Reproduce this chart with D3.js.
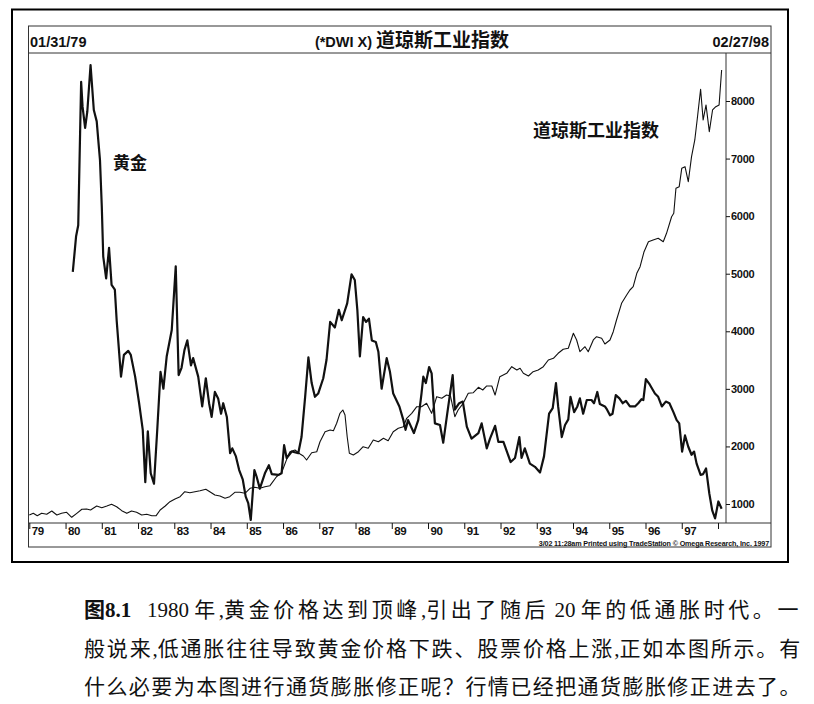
<!DOCTYPE html>
<html>
<head>
<meta charset="utf-8">
<script src="https://cdn.jsdelivr.net/npm/d3@7"></script>
<style>
  html, body { margin: 0; padding: 0; background: #fff; }
  svg { display: block; }
  .cap { white-space: pre; }
</style>
</head>
<body>
<svg id="chart" width="814" height="704"></svg>
<script>
// ---------------- DATA ----------------
const headerLeft = "01/31/79";
const headerRight = "02/27/98";
const headerTitle = ["(*DWI X) ", "道琼斯工业指数"];
const yearTicks = d3.range(1979, 1999);
const dowTicks = [1000, 2000, 3000, 4000, 5000, 6000, 7000, 8000];
const goldLabel = "黄金";
const dowLabel = "道琼斯工业指数";
const credit = "3/02 11:28am Printed using TradeStation © Omega Research, Inc. 1997";
const captionLines = [
  "图8.1   1980 年,黄金价格达到顶峰,引出了随后 20 年的低通胀时代。一",
  "般说来,低通胀往往导致黄金价格下跌、股票价格上涨,正如本图所示。有",
  "什么必要为本图进行通货膨胀修正呢？行情已经把通货膨胀修正进去了。"
];
const captionBold = "图8.1";

// Dow Jones Industrial Average [decimal year, index]
const dow = [
[1979.00,809],[1979.11,838],[1979.22,797],[1979.34,838],[1979.48,821],[1979.62,878],[1979.76,809],[1979.89,838],
[1980.03,856],[1980.17,769],[1980.31,838],[1980.45,908],[1980.58,913],[1980.69,896],[1980.86,965],[1981.00,936],
[1981.14,965],[1981.27,995],[1981.41,953],[1981.55,884],[1981.69,838],[1981.82,878],[1981.96,856],[1982.10,809],
[1982.24,821],[1982.38,797],[1982.50,797],[1982.61,896],[1982.75,965],[1982.88,1040],[1983.02,1087],[1983.16,1127],
[1983.29,1214],[1983.43,1196],[1983.57,1214],[1983.71,1231],[1983.87,1255],[1983.98,1214],[1984.12,1156],[1984.26,1139],
[1984.40,1099],[1984.53,1127],[1984.67,1203],[1984.81,1203],[1984.95,1186],[1985.09,1273],[1985.22,1290],[1985.36,1273],
[1985.50,1300],[1985.64,1318],[1985.82,1474],[1985.96,1544],[1986.10,1776],[1986.19,1908],[1986.33,1938],[1986.47,1869],
[1986.56,1834],[1986.65,1764],[1986.79,1891],[1986.93,1908],[1987.02,2082],[1987.16,2256],[1987.30,2285],[1987.39,2273],
[1987.48,2402],[1987.57,2575],[1987.65,2633],[1987.71,2546],[1987.77,2169],[1987.83,1881],[1987.94,1851],[1988.08,1908],
[1988.21,1995],[1988.35,1968],[1988.49,2112],[1988.63,2082],[1988.77,2141],[1988.90,2100],[1989.04,2256],[1989.18,2315],
[1989.32,2343],[1989.41,2489],[1989.55,2575],[1989.69,2690],[1989.82,2690],[1989.96,2749],[1990.10,2575],[1990.24,2864],
[1990.38,2836],[1990.51,2893],[1990.62,2876],[1990.74,2516],[1990.83,2633],[1990.97,2749],[1991.11,2923],[1991.25,2933],
[1991.39,3027],[1991.51,2980],[1991.62,3050],[1991.76,3050],[1991.85,2893],[1991.98,3211],[1992.17,3270],[1992.31,3385],
[1992.45,3328],[1992.54,3357],[1992.63,3270],[1992.77,3223],[1992.90,3298],[1993.04,3328],[1993.18,3385],[1993.32,3501],
[1993.46,3531],[1993.59,3618],[1993.73,3687],[1993.87,3705],[1994.01,3965],[1994.10,3849],[1994.19,3645],[1994.33,3732],
[1994.42,3645],[1994.56,3849],[1994.65,3906],[1994.79,3878],[1994.88,3779],[1995.02,3849],[1995.11,3993],[1995.20,4196],
[1995.34,4486],[1995.48,4630],[1995.57,4717],[1995.66,4775],[1995.76,5007],[1995.85,5122],[1995.96,5383],[1996.08,5556],
[1996.21,5586],[1996.35,5615],[1996.49,5556],[1996.58,5702],[1996.72,5990],[1996.78,6049],[1996.84,6484],[1996.93,6512],
[1997.00,6831],[1997.09,6859],[1997.18,6598],[1997.27,7033],[1997.36,7323],[1997.43,7700],[1997.52,8203],[1997.59,7670],
[1997.67,7931],[1997.76,7467],[1997.85,7844],[1997.94,7901],[1998.03,7931],[1998.10,8539]
];

// Gold price [decimal year, $/oz] (own, unlabelled scale)
const gold = [
[1980.20,593],[1980.29,637],[1980.35,651],[1980.43,829],[1980.47,798],[1980.54,772],[1980.60,792],[1980.69,850],
[1980.78,794],[1980.86,780],[1980.91,753],[1980.95,732],[1981.00,674],[1981.04,612],[1981.12,585],[1981.20,623],
[1981.27,577],[1981.36,571],[1981.41,533],[1981.53,463],[1981.61,490],[1981.73,495],[1981.80,490],[1981.92,463],
[1982.03,430],[1982.13,397],[1982.20,332],[1982.27,395],[1982.35,343],[1982.44,330],[1982.53,397],[1982.62,469],
[1982.70,448],[1982.79,488],[1982.93,521],[1983.04,600],[1983.12,465],[1983.20,474],[1983.28,496],[1983.36,508],
[1983.46,477],[1983.52,486],[1983.66,463],[1983.77,426],[1983.87,461],[1983.96,430],[1984.03,413],[1984.12,444],
[1984.21,436],[1984.29,417],[1984.35,430],[1984.45,413],[1984.54,368],[1984.60,374],[1984.70,364],[1984.79,347],
[1984.89,335],[1984.97,314],[1985.04,306],[1985.11,285],[1985.21,347],[1985.27,339],[1985.36,324],[1985.50,343],
[1985.61,353],[1985.69,342],[1985.87,341],[1985.96,343],[1986.03,378],[1986.10,362],[1986.24,370],[1986.42,368],
[1986.51,388],[1986.61,438],[1986.70,487],[1986.79,455],[1986.88,438],[1986.97,442],[1987.11,461],[1987.20,484],
[1987.30,531],[1987.43,524],[1987.54,546],[1987.62,533],[1987.77,554],[1987.89,590],[1987.98,583],[1988.05,546],
[1988.12,488],[1988.21,537],[1988.29,531],[1988.37,535],[1988.45,508],[1988.56,506],[1988.63,494],[1988.72,448],
[1988.86,486],[1988.95,469],[1989.04,442],[1989.21,426],[1989.32,409],[1989.38,397],[1989.45,409],[1989.61,393],
[1989.73,409],[1989.82,442],[1989.87,463],[1989.94,455],[1990.03,475],[1990.10,467],[1990.19,405],[1990.33,403],
[1990.42,381],[1990.53,417],[1990.68,465],[1990.74,422],[1990.86,430],[1990.96,432],[1991.07,401],[1991.20,386],
[1991.39,393],[1991.48,405],[1991.62,374],[1991.71,386],[1991.85,402],[1991.94,382],[1992.08,382],[1992.28,357],
[1992.40,362],[1992.52,388],[1992.58,362],[1992.67,374],[1992.81,355],[1992.95,351],[1993.09,344],[1993.20,364],
[1993.34,417],[1993.44,424],[1993.53,455],[1993.59,426],[1993.69,388],[1993.78,403],[1993.87,410],[1993.93,438],
[1994.03,419],[1994.12,426],[1994.19,436],[1994.28,417],[1994.38,434],[1994.51,434],[1994.58,430],[1994.67,444],
[1994.74,429],[1994.88,426],[1994.94,422],[1995.02,415],[1995.09,417],[1995.18,440],[1995.28,436],[1995.37,430],
[1995.46,433],[1995.57,426],[1995.71,426],[1995.80,430],[1995.89,435],[1995.94,434],[1996.01,460],[1996.12,453],
[1996.26,442],[1996.35,438],[1996.45,426],[1996.56,432],[1996.66,430],[1996.77,419],[1996.86,409],[1996.93,405],
[1997.01,370],[1997.09,390],[1997.18,376],[1997.27,366],[1997.34,370],[1997.41,355],[1997.52,341],[1997.59,342],
[1997.67,349],[1997.76,318],[1997.84,297],[1997.92,287],[1998.01,308],[1998.10,299]
];

// ---------------- LAYOUT ----------------
const outer = {x0: 12, y0: 9.5, x1: 788, y1: 562};
const inner = {x0: 28.5, y0: 26, x1: 771, y1: 547};
const headerY = 53;
const plot = {left: 28.5, right: 726, top: 53, bottom: 523};

const svg = d3.select("#chart");
const ink = "#111";

const x = d3.scaleLinear().domain([1979, 1998]).range([29.3, 718]);
const yDow = d3.scaleLinear().domain([1000, 8000]).range([504, 101]);
const yGold = d3.scaleLinear().domain([285, 850]).range([520, 65]);

// frames
svg.append("rect").attr("x", outer.x0).attr("y", outer.y0)
  .attr("width", outer.x1 - outer.x0).attr("height", outer.y1 - outer.y0)
  .attr("fill", "none").attr("stroke", "#000").attr("stroke-width", 2);
svg.append("rect").attr("x", inner.x0).attr("y", inner.y0)
  .attr("width", inner.x1 - inner.x0).attr("height", inner.y1 - inner.y0)
  .attr("fill", "none").attr("stroke", "#333").attr("stroke-width", 1);
svg.append("line").attr("x1", inner.x0).attr("x2", inner.x1)
  .attr("y1", headerY).attr("y2", headerY).attr("stroke", "#333");
svg.append("line").attr("x1", inner.x0).attr("x2", inner.x1)
  .attr("y1", plot.bottom).attr("y2", plot.bottom).attr("stroke", "#333");
svg.append("line").attr("x1", plot.right).attr("x2", plot.right)
  .attr("y1", plot.top).attr("y2", plot.bottom).attr("stroke", "#333");

// header texts
const hfont = "'Liberation Sans', Arial, 'Noto Sans CJK SC', sans-serif";
svg.append("text").attr("x", 30).attr("y", 46.5).text(headerLeft)
  .attr("font-family", hfont).attr("font-size", 14.5).attr("font-weight", "bold").attr("fill", ink);
svg.append("text").attr("x", 769).attr("y", 46.5).attr("text-anchor", "end").text(headerRight)
  .attr("font-family", hfont).attr("font-size", 14.5).attr("font-weight", "bold").attr("fill", ink);
const ht = svg.append("text").attr("x", 412).attr("y", 47).attr("text-anchor", "middle")
  .attr("font-family", hfont).attr("font-weight", "bold").attr("fill", ink);
ht.append("tspan").attr("font-size", 14.5).text(headerTitle[0]);
ht.append("tspan").attr("font-size", 19).attr("font-family", "'Noto Sans CJK SC', sans-serif").text(headerTitle[1]);

// bottom axis
const xAxis = d3.axisBottom(x).tickValues(yearTicks).tickSize(6)
  .tickFormat(d => d === 1998 ? "" : String(d).slice(2));
const gx = svg.append("g").attr("transform", `translate(0,${plot.bottom})`).call(xAxis);
gx.select(".domain").remove();
gx.selectAll(".tick line").attr("stroke", ink);
gx.selectAll(".tick text").attr("x", 2).attr("y", 4).attr("dy", "0.71em")
  .attr("text-anchor", "start").attr("font-family", hfont).attr("font-size", 11.5)
  .attr("font-weight", "bold").attr("letter-spacing", -0.4).attr("fill", ink);

// right axis
const yAxis = d3.axisRight(yDow).tickValues(dowTicks).tickSize(4).tickPadding(1)
  .tickFormat(d3.format("d"));
const gy = svg.append("g").attr("transform", `translate(${plot.right},0)`).call(yAxis);
gy.select(".domain").remove();
gy.selectAll(".tick line").attr("stroke", ink);
gy.selectAll(".tick text").attr("font-family", hfont).attr("font-size", 11)
  .attr("font-weight", "bold").attr("letter-spacing", -0.3).attr("fill", ink);

// credit line
svg.append("text").attr("x", 769).attr("y", 545.5).attr("text-anchor", "end").text(credit)
  .attr("font-family", hfont).attr("font-size", 7.2).attr("font-weight", "bold")
  .attr("letter-spacing", -0.15).attr("fill", ink);

// series
svg.append("clipPath").attr("id", "pclip").append("rect")
  .attr("x", plot.left).attr("y", plot.top).attr("width", plot.right - plot.left)
  .attr("height", plot.bottom - plot.top);
const lineDow = d3.line().x(d => x(d[0])).y(d => yDow(d[1]));
const lineGold = d3.line().x(d => x(d[0])).y(d => yGold(d[1]));
const gSeries = svg.append("g").attr("clip-path", "url(#pclip)");
gSeries.append("path").datum(dow).attr("d", lineDow)
  .attr("fill", "none").attr("stroke", ink).attr("stroke-width", 1.1).attr("stroke-linejoin", "round");
gSeries.append("path").datum(gold).attr("d", lineGold)
  .attr("fill", "none").attr("stroke", ink).attr("stroke-width", 2.2).attr("stroke-linejoin", "round");

// series labels
const cjkBold = "'Noto Sans CJK SC', sans-serif";
svg.append("text").attr("x", 113).attr("y", 168.5).text(goldLabel)
  .attr("font-family", cjkBold).attr("font-weight", "bold").attr("font-size", 17).attr("fill", ink);
svg.append("text").attr("x", 533).attr("y", 136.5).text(dowLabel)
  .attr("font-family", cjkBold).attr("font-weight", "bold").attr("font-size", 18).attr("fill", ink);

// caption: CJK runs get extra letter-spacing so each line spans the same width
const capFont = "'Liberation Serif', 'Noto Sans CJK SC', serif";
const capY = [617, 656, 694];
const capX = 84, capW = 718;
captionLines.forEach((ln, i) => {
  const t = svg.append("text").attr("class", "cap").attr("x", capX).attr("y", capY[i])
    .attr("font-family", capFont).attr("font-size", 21).attr("fill", ink);
  let rest = ln;
  if (ln.startsWith(captionBold)) {
    t.append("tspan").attr("font-weight", "bold").attr("class", "latin").text(captionBold);
    rest = ln.slice(captionBold.length);
  }
  const runs = rest.match(/[\x00-\x7F]+|[^\x00-\x7F]+/g) || [];
  runs.forEach(r => {
    const isLatin = /^[\x00-\x7F]+$/.test(r);
    t.append("tspan").attr("class", isLatin ? "latin" : "cjk").text(r);
  });
  const w0 = t.node().getComputedTextLength();
  let n = 0;
  t.selectAll("tspan.cjk").each(function() { n += this.textContent.length; });
  const s = n > 0 ? (capW - w0) / n : 0;
  t.selectAll("tspan.cjk").attr("letter-spacing", s);
});
</script>
</body>
</html>
